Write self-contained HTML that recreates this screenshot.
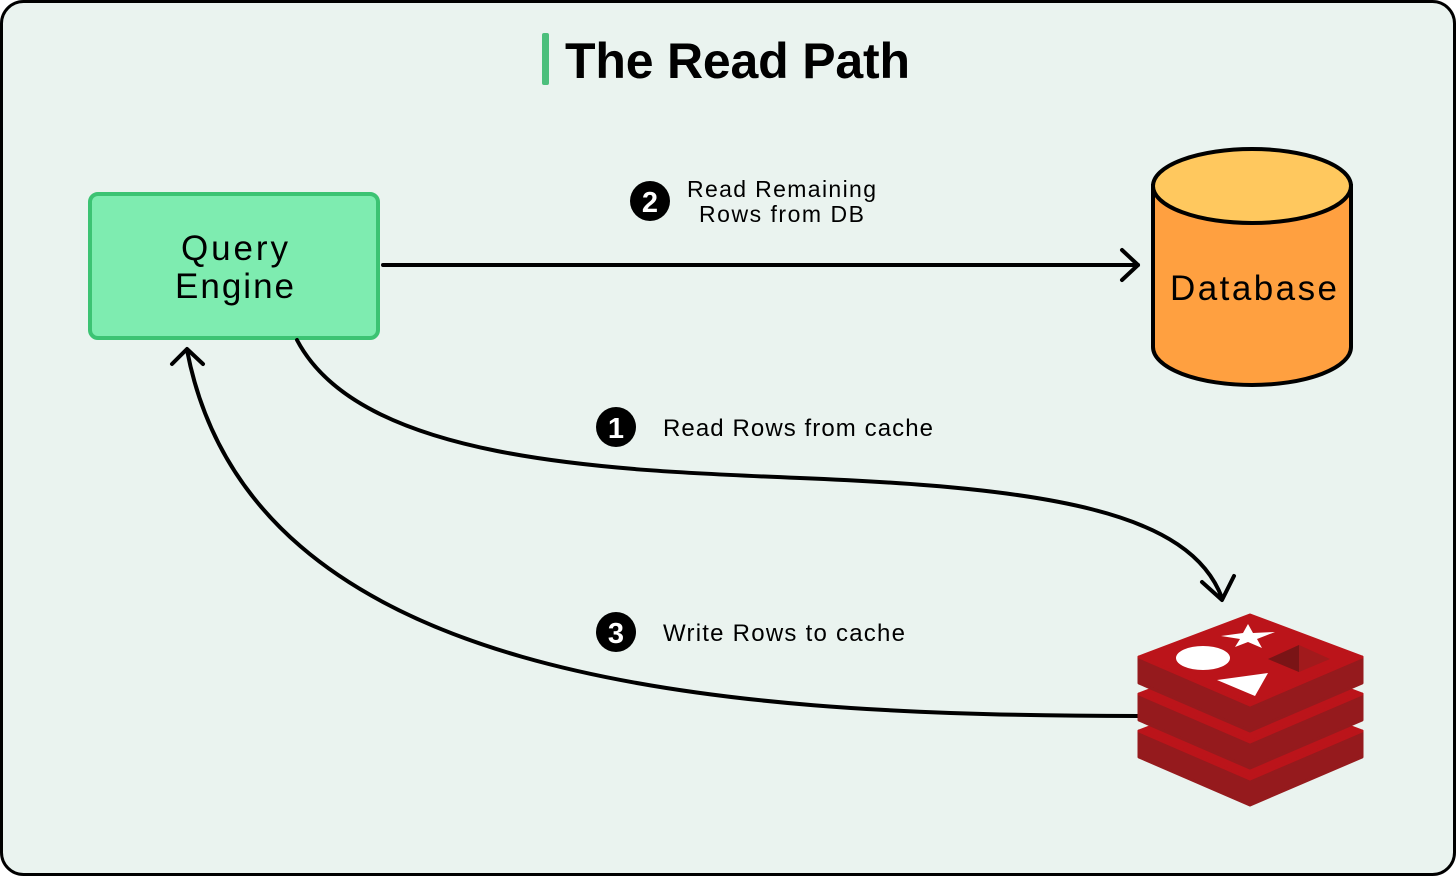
<!DOCTYPE html>
<html><head><meta charset="utf-8"><style>
html,body{margin:0;padding:0;background:#fff;}
svg{display:block;}
text{font-family:"Liberation Sans",sans-serif;}
</style></head><body>
<svg width="1456" height="876" viewBox="0 0 1456 876" xmlns="http://www.w3.org/2000/svg">
<rect x="1.5" y="1.5" width="1453" height="873" rx="22" fill="#eaf3ef" stroke="#000" stroke-width="3"/>
<rect x="542" y="33" width="7" height="52" rx="2" fill="#4cbf7c"/>
<text x="565" y="78" font-size="50" font-weight="bold" fill="#000" textLength="345">The Read Path</text>

<rect x="90" y="194" width="288" height="144" rx="8" fill="#7eecb0" stroke="#3cc373" stroke-width="4"/>
<text x="181" y="260" font-size="35" fill="#000" textLength="107">Query</text>
<text x="175" y="298" font-size="35" fill="#000" textLength="119">Engine</text>

<!-- database -->
<path d="M1153,186 L1153,347 A99,38 0 0 0 1351,347 L1351,186 Z" fill="#ffa040" stroke="#000" stroke-width="4"/>
<ellipse cx="1252" cy="186" rx="99" ry="37" fill="#ffc85e" stroke="#000" stroke-width="4"/>
<text x="1170" y="300" font-size="35" fill="#000" textLength="167">Database</text>

<!-- arrows -->
<g fill="none" stroke="#000" stroke-width="4" stroke-linecap="round" stroke-linejoin="round">
<path d="M383,265 L1138,265"/>
<path d="M1122,250 L1138,265 L1122,280"/>
<path d="M297,340 C360,460 600,470 800,478 C1050,488 1190,512 1222,598"/>
<path d="M1202,582 L1222,600 L1234,576"/>
<path d="M1138,716 C700,716 250,680 187,350"/>
<path d="M172,364 L187,349 L203,364"/>
</g>

<!-- labels -->
<circle cx="650" cy="201" r="20" fill="#000"/>
<text x="650" y="212" font-size="29" font-weight="bold" fill="#fff" text-anchor="middle">2</text>
<text x="687" y="197" font-size="23" fill="#000" textLength="189">Read Remaining</text>
<text x="699" y="222" font-size="23" fill="#000" textLength="165">Rows from DB</text>

<circle cx="616" cy="427" r="20" fill="#000"/>
<text x="616" y="438" font-size="29" font-weight="bold" fill="#fff" text-anchor="middle">1</text>
<text x="663" y="436" font-size="24" fill="#000" textLength="270">Read Rows from cache</text>

<circle cx="616" cy="632" r="20" fill="#000"/>
<text x="616" y="643" font-size="29" font-weight="bold" fill="#fff" text-anchor="middle">3</text>
<text x="663" y="641" font-size="24" fill="#000" textLength="242">Write Rows to cache</text>

<!-- redis logo -->
<g stroke-linejoin="round" stroke-width="3">
<g transform="translate(0,74)">
<polygon points="1139,657 1250,705 1362,657 1362,683 1250,731 1139,683" fill="#951a1d" stroke="#951a1d"/>
<polygon points="1250,615 1362,657 1250,705 1139,657" fill="#bb141a" stroke="#bb141a"/>
</g>
<g transform="translate(0,37)">
<polygon points="1139,657 1250,705 1362,657 1362,683 1250,731 1139,683" fill="#951a1d" stroke="#951a1d"/>
<polygon points="1250,615 1362,657 1250,705 1139,657" fill="#bb141a" stroke="#bb141a"/>
</g>
<polygon points="1139,657 1250,705 1362,657 1362,683 1250,731 1139,683" fill="#951a1d" stroke="#951a1d"/>
<polygon points="1250,615 1362,657 1250,705 1139,657" fill="#bb141a" stroke="#bb141a"/>
</g>
<ellipse cx="1203" cy="658" rx="27" ry="12" fill="#fff"/>
<polygon points="1248,624 1253,633 1275,632 1257,639 1262,648 1248,642 1235,647 1240,639 1221,636 1243,633" fill="#fff"/>
<polygon points="1217,680 1268,673 1255,696" fill="#fff"/>
<polygon points="1268,659 1299,645 1330,659 1299,672" fill="#a11a1c"/>
<polygon points="1268,659 1299,645 1299,672" fill="#7a1416"/>
</svg>
</body></html>
